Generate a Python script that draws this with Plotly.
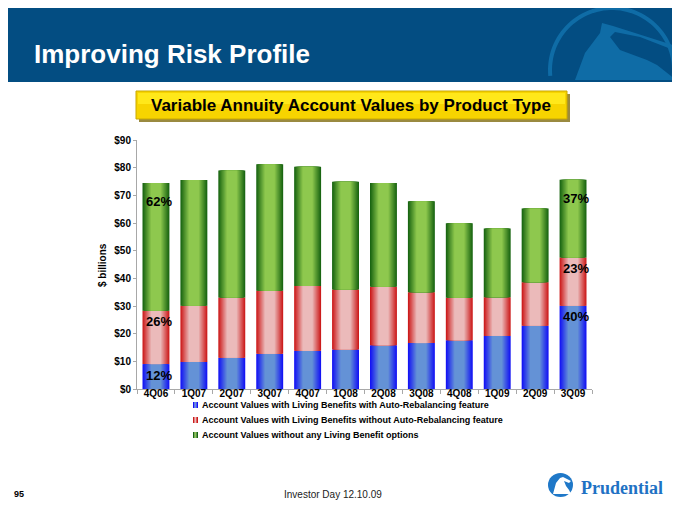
import numpy as np
import plotly.graph_objects as go

# ---- data ($ billions) ----
quarters = ["4Q06", "1Q07", "2Q07", "3Q07", "4Q07", "1Q08",
            "2Q08", "3Q08", "4Q08", "1Q09", "2Q09", "3Q09"]
with_rebal = [9.0, 9.8, 11.3, 12.7, 13.8, 14.3, 15.8, 16.6, 17.6, 19.2, 22.9, 30.1]
without_rebal = [19.3, 20.3, 21.8, 22.8, 23.4, 21.7, 21.2, 18.4, 15.4, 14.0, 15.7, 17.4]
no_benefit = [46.2, 45.4, 45.9, 45.7, 43.1, 38.9, 37.5, 32.9, 26.9, 24.8, 26.6, 28.1]
series_names = [
    "Account Values with Living Benefits with Auto-Rebalancing feature",
    "Account Values with Living Benefits without Auto-Rebalancing feature",
    "Account Values without any Living Benefit options",
]
pct_first = ["12%", "26%", "62%"]
pct_last = ["40%", "23%", "37%"]

W, H = 680, 507
OFF = 8  # page body margin the browser adds around the plot div
L, R, T, B = 137, 592, 140, 389
FONT = "Liberation Sans, Arial, sans-serif"
NARROW = "Liberation Sans Narrow, Arial Narrow, Liberation Sans, sans-serif"


def px(x):
    return (x - L) / (R - L)


def py(y):
    return (B - y) / (B - T)


def mix(c1, c2, t):
    a = [int(c1[i:i + 2], 16) for i in (1, 3, 5)]
    b = [int(c2[i:i + 2], 16) for i in (1, 3, 5)]
    return "rgb(%d,%d,%d)" % tuple(round(a[i] + (b[i] - a[i]) * t) for i in range(3))


def note(x, y, text, size, color="black", family=FONT, xa="center", ya="middle", **kw):
    return dict(xref="paper", yref="paper", x=px(x), y=py(y), xanchor=xa, yanchor=ya,
                showarrow=False, text=text, font=dict(family=family, size=size, color=color),
                **kw)


def poly(pts, close=True):
    s = "M " + " L ".join("%.4f,%.4f" % (px(x), py(y)) for x, y in pts)
    return s + (" Z" if close else "")


# edge colour, centre colour for each stacked layer
layers = [
    (with_rebal, "#1414f4", "#6492d6"),
    (without_rebal, "#cc1c1c", "#ebbaba"),
    (no_benefit, "#1a6612", "#8ec84e"),
]

fig = go.Figure()
base = np.zeros(len(quarters))
tops = []
steps = 9
for vals, edge, mid in layers:
    vals = np.array(vals)
    # fake the horizontal gradient with nested, narrowing bars
    for k in range(steps):
        t = k / (steps - 1)
        fig.add_bar(x=quarters, y=vals, base=base, width=0.71 * (1 - 0.62 * t),
                    marker=dict(color=mix(edge, mid, t), line_width=0),
                    showlegend=False, hoverinfo="skip")
    base = base + vals
    tops.append(base.copy())

shapes = []
annotations = []

# percent labels on first and last bars
for i in range(3):
    shift = -19 if i == 2 else -11
    for q, lab in ((quarters[0], pct_first[i]), (quarters[-1], pct_last[i])):
        idx = quarters.index(q)
        annotations.append(dict(x=q, y=tops[i][idx], text="<b>%s</b>" % lab,
                                showarrow=False, xanchor="center", yanchor="middle",
                                yshift=shift, xshift=3,
                                font=dict(family=NARROW, size=13, color="black")))

# header band + faint logo
shapes.append(dict(type="rect", xref="paper", yref="paper", x0=px(2), x1=px(678),
                   y0=py(82), y1=py(1), fillcolor="#034d82", line_width=0, layer="below"))
ang = np.linspace(np.pi * 0.97, np.pi * 2.03, 60)
cx, cy, rr = 612, 70, 62
arc = [(cx + rr * np.cos(a), cy + rr * np.sin(a)) for a in ang]
arc = [(x, y) for x, y in arc if y <= 81]
shapes.append(dict(type="path", xref="paper", yref="paper", path=poly(arc, False),
                   line=dict(color="#0f6ca6", width=4)))
rock = [(575, 80), (585, 53), (600, 33), (602, 23), (613, 26), (673, 45), (671, 49),
        (640, 37), (615, 32), (610, 37), (620, 50), (647, 60), (657, 65), (676, 80)]
shapes.append(dict(type="path", xref="paper", yref="paper", fillcolor="#0f6ca6",
                   line_width=0, path=poly(rock)))
annotations.append(note(32, 54, "<b>Improving Risk Profile</b>", 26, "white", xa="left"))

# yellow chart title box
shapes.append(dict(type="rect", xref="paper", yref="paper", x0=px(139), x1=px(570),
                   y0=py(122), y1=py(94), fillcolor="#9a8a40", line_width=0))
shapes.append(dict(type="rect", xref="paper", yref="paper", x0=px(136), x1=px(567),
                   y0=py(119), y1=py(91), fillcolor="#f7d400",
                   line=dict(color="#c9a800", width=1)))
shapes.append(dict(type="rect", xref="paper", yref="paper", x0=px(138), x1=px(565),
                   y0=py(104), y1=py(93), fillcolor="#ffe81a", line_width=0))
annotations.append(note(351, 105, "<b>Variable Annuity Account Values by Product Type</b>", 17))

# y axis title
annotations.append(note(102, 265, "<b>$ billions</b>", 10, textangle=-90))

# manual legend
for i, (name, (_, edge, mid)) in enumerate(zip(series_names, layers)):
    yc = 405 + 15 * i
    for j, c in enumerate([edge, mid, edge]):
        shapes.append(dict(type="rect", xref="paper", yref="paper",
                           x0=px(193 + 5 * j / 3), x1=px(193 + 5 * (j + 1) / 3),
                           y0=py(yc + 3), y1=py(yc - 3), fillcolor=c, line_width=0))
    annotations.append(note(200, yc, "<b>%s</b>" % name, 9, xa="left"))

# footer
annotations.append(note(12, 494, "<b>95</b>", 9, xa="left"))
annotations.append(note(333, 494, "Investor Day 12.10.09", 10, "#222222"))
annotations.append(note(579, 488, "<b>Prudential</b>", 18, "#1f72c4",
                        family="Liberation Serif, DejaVu Serif, serif", xa="left"))
shapes.append(dict(type="circle", xref="paper", yref="paper", x0=px(548), x1=px(573),
                   y0=py(497), y1=py(473), fillcolor="#1f78c8", line_width=0))
small_rock = [(553, 494), (556, 483), (560, 478), (563, 477), (571, 481), (569, 483),
              (564, 481), (566, 486), (569, 490), (571, 494)]
shapes.append(dict(type="path", xref="paper", yref="paper", fillcolor="white",
                   line_width=0, path=poly(small_rock)))

fig.update_layout(
    width=W - OFF, height=H - OFF,
    margin=dict(l=L - OFF, r=W - R, t=T - OFF, b=H - B, pad=0),
    paper_bgcolor="white", plot_bgcolor="white",
    barmode="overlay",
    showlegend=False,
    font=dict(family=FONT, size=10, color="black"),
    shapes=shapes,
    annotations=annotations,
    xaxis=dict(type="category", showgrid=False, showline=True, linecolor="#a8a8a8",
               ticks="outside", tickson="boundaries", ticklen=4, tickcolor="#a8a8a8",
               tickfont=dict(family=FONT, size=10, color="black", weight="bold"),
               ticklabelstandoff=-5),
    yaxis=dict(range=[0, 90], dtick=10, tickprefix="$", showgrid=False, zeroline=False,
               showline=True, linecolor="#a8a8a8", ticks="outside", ticklen=3,
               tickcolor="#a8a8a8",
               tickfont=dict(family=FONT, size=10, color="black", weight="bold")),
)

fig.write_html("out.html")
